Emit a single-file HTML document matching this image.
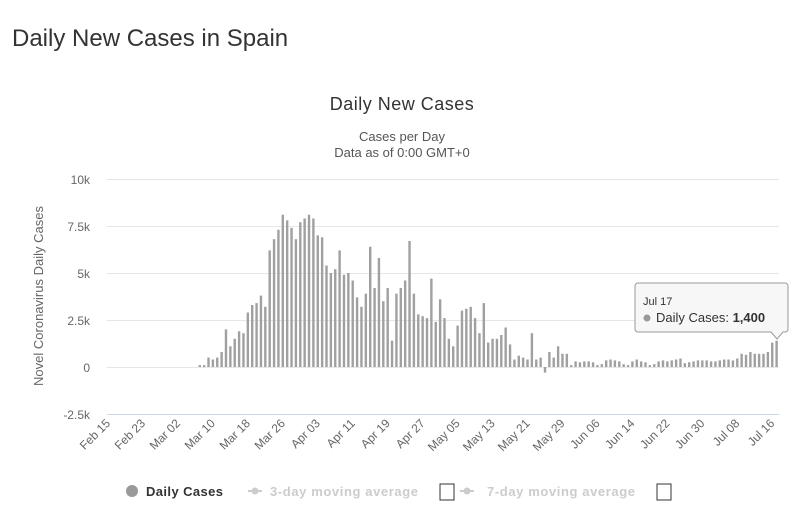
<!DOCTYPE html>
<html><head><meta charset="utf-8"><style>
body{margin:0;background:#fff;width:800px;height:511px;overflow:hidden;font-family:"Liberation Sans",sans-serif}
</style></head><body>
<svg id="s" width="800" height="511" xmlns="http://www.w3.org/2000/svg" font-family="Liberation Sans, sans-serif">
<text x="12" y="46" font-size="24" fill="#333">Daily New Cases in Spain</text>
<text x="402" y="110" font-size="18" fill="#333" text-anchor="middle" letter-spacing="0.5">Daily New Cases</text>
<text x="402" y="141" font-size="13" fill="#555" text-anchor="middle">Cases per Day</text>
<text x="402" y="157" font-size="13" fill="#555" text-anchor="middle">Data as of 0:00 GMT+0</text>
<g stroke="#e6e6e6" stroke-width="1">
<line x1="107" x2="779" y1="179.5" y2="179.5"/><line x1="107" x2="779" y1="226.5" y2="226.5"/>
<line x1="107" x2="779" y1="273.5" y2="273.5"/><line x1="107" x2="779" y1="320.5" y2="320.5"/>
<line x1="107" x2="779" y1="367.5" y2="367.5"/></g>
<line x1="107" x2="779" y1="414.5" y2="414.5" stroke="#ccd6eb"/>
<g font-size="12" fill="#666" text-anchor="end">
<text x="90" y="184">10k</text><text x="90" y="231">7.5k</text><text x="90" y="278">5k</text>
<text x="90" y="325">2.5k</text><text x="90" y="372">0</text><text x="90" y="419">-2.5k</text></g>
<text transform="translate(43,296) rotate(-90)" font-size="13" fill="#666" text-anchor="middle">Novel Coronavirus Daily Cases</text>
<g id="bars" fill="#a0a0a0"></g>
<g id="xl" font-size="12" fill="#666"></g>
<g transform="translate(635,283)">
<path d="M3 0H150a3 3 0 0 1 3 3V46a3 3 0 0 1-3 3H148L142 56L136 49H3a3 3 0 0 1-3-3V3a3 3 0 0 1 3-3z" fill="#f7f7f7" stroke="#999" stroke-width="1"/>
<text x="8" y="22" font-size="11" fill="#333">Jul 17</text>
<circle cx="12" cy="35" r="3.5" fill="#999"/>
<text x="21" y="39" font-size="13" fill="#333">Daily Cases: <tspan font-weight="bold">1,400</tspan></text>
</g>
<g font-size="13" font-weight="bold">
<circle cx="132" cy="491" r="6" fill="#999"/>
<text x="146" y="496" fill="#333" textLength="77">Daily Cases</text>
<line x1="248" x2="262" y1="491" y2="491" stroke="#ccc" stroke-width="2"/><circle cx="255" cy="491" r="3.5" fill="#ccc"/>
<text x="270" y="496" fill="#ccc" textLength="148">3-day moving average</text>
<rect x="440" y="484" width="14" height="16" fill="none" stroke="#333"/>
<line x1="460" x2="474" y1="491" y2="491" stroke="#ccc" stroke-width="2"/><circle cx="467" cy="491" r="3.5" fill="#ccc"/>
<text x="487" y="496" fill="#ccc" textLength="148">7-day moving average</text>
<rect x="657" y="484" width="14" height="16" fill="none" stroke="#333"/>
</g>
</svg>
<script>
var v=[];for(var i=0;i<154;i++)v.push(0);
var a=[100,100,500,400,500,800,2000,1100,1500,1900,1800,2900,3300,3400,3800,3200,6200,6800,7300,8100,7800,7400,6800,7700,7900,8100,7900,7000,6900,5400,5000,5200,6200,4900,5000,4600,3700,3200,3900,6400,4200,5800,3500,4200,1400,3900,4200,4600,6700,3900,2800,2700,2600,4700,2400,3600,2600,1500,1100,2200,3000,3100,3200,2600,1800,3400,1300,1500,1500,1700,2100,1200,400,600,500,400,1800,400,500,-300,800,500,1100,700,700,100];
for(var j=0;j<a.length;j++)v[21+j]=a[j];
var mid=[300,250,300,300,250,100,150,350,400,350,300,150,100,300,400,300,250,100,150,300,350,300,350,400,450,200,250,300,350,350,350,300,300,350,400,400,350,450,700,650];
for(var j=0;j<mid.length;j++)if(107+j<154)v[107+j]=mid[j];
v[147]=800;v[148]=700;v[149]=700;v[150]=700;v[151]=800;v[152]=1300;v[153]=1400;
var g=document.getElementById('bars'),h='';
for(var i=0;i<154;i++){var x=108+i*4.37,val=v[i];if(!val)continue;var hh=Math.abs(val)*47/2500;var y=val>0?367-hh:367;
h+='<rect x="'+(x-1.2).toFixed(2)+'" y="'+y.toFixed(1)+'" width="2.4" height="'+Math.max(hh,1).toFixed(1)+'"/>';}
g.innerHTML=h;
var L=['Feb 15','Feb 23','Mar 02','Mar 10','Mar 18','Mar 26','Apr 03','Apr 11','Apr 19','Apr 27','May 05','May 13','May 21','May 29','Jun 06','Jun 14','Jun 22','Jun 30','Jul 08','Jul 16'],t='';
for(var k=0;k<L.length;k++){var x=108+k*8*4.37;t+='<text text-anchor="end" transform="translate('+(x+3)+',424) rotate(-45)">'+L[k]+'</text>';}
document.getElementById('xl').innerHTML=t;
</script>
</body></html>
